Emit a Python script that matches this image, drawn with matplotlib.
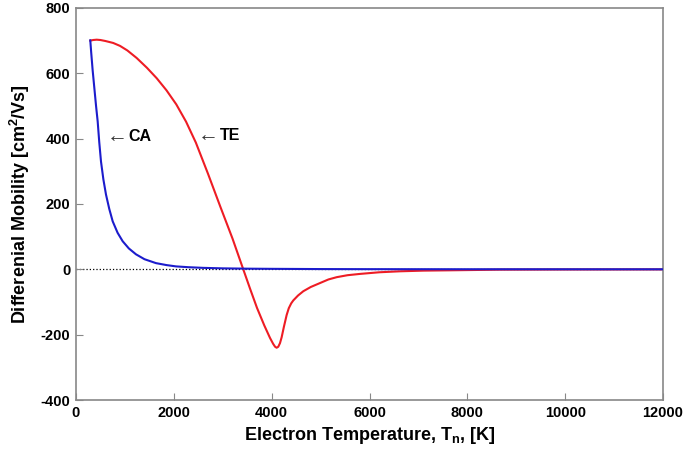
import matplotlib
matplotlib.use("Agg")
import matplotlib.pyplot as plt

plt.rcParams['font.family'] = ['Liberation Sans', 'DejaVu Sans']
plt.rcParams['axes.unicode_minus'] = False

# CA (blue) curve
ca_T = [292, 310, 340, 375, 410, 443, 475, 511, 560, 613, 680, 750, 850, 954, 1080, 1226, 1400,
        1635, 1850, 2044, 2300, 2600, 3000, 3500, 4000, 5000, 6000, 8000, 10000, 12000]
ca_mu = [701, 665, 610, 555, 500, 453, 390, 330, 275, 229, 185, 147, 112, 86, 64, 46, 31,
         19, 13, 9, 6.5, 4.5, 3, 2, 1.5, 0.8, 0.5, 0.3, 0.2, 0.1]

# TE (red) curve
te_T = [292, 350, 423, 500, 600, 760, 900, 1050, 1240, 1450, 1650, 1850, 2050, 2250, 2450,
        2700, 2950, 3200, 3410, 3560, 3700, 3850, 3966, 4030, 4070, 4102, 4135, 4170, 4204,
        4250, 4306, 4350, 4400, 4443, 4540, 4647, 4800, 4988, 5160, 5330, 5550, 5806, 6200,
        6623, 7100, 7645, 8667, 10000, 12000]
te_mu = [700, 702, 703, 702, 699, 693, 684, 670, 647, 617, 585, 548, 505, 452, 388,
         292, 192, 94, 4, -60, -118, -172, -210, -228, -237, -240, -237, -226, -208,
         -176, -140, -119, -104, -95, -80, -67, -54, -42, -31, -24, -18, -14, -9,
         -6, -4, -3, -1, -0.5, -0.2]

x_ticks = [0, 2000, 4000, 6000, 8000, 10000, 12000]
y_ticks = [-400, -200, 0, 200, 400, 600, 800]

fig = plt.figure(figsize=(6.85, 4.54), dpi=100)
ax = fig.add_axes([76/685, 54/454, 587/685, 392/454])

ax.axhline(0, color='black', linestyle=':', linewidth=0.9, zorder=1)
ax.plot(te_T, te_mu, color='#ee1c24', linewidth=1.5, zorder=2)
ax.plot(ca_T, ca_mu, color='#1c1ccc', linewidth=1.5, zorder=3)

ax.set_xlim(0, 12000)
ax.set_ylim(-400, 800)
ax.set_xticks(x_ticks)
ax.set_yticks(y_ticks)
ax.tick_params(direction='in', length=5, color='#888888', labelsize=10.5, pad=4)
for lab in ax.get_xticklabels() + ax.get_yticklabels():
    lab.set_fontweight('bold')
for s in ax.spines.values():
    s.set_color('#888888')
    s.set_linewidth(1.2)

ax.set_xlabel('Electron Temperature, T$_\\mathregular{n}$, [K]', fontsize=13, fontweight='bold', labelpad=4)
ax.set_ylabel('Differenial Mobility [cm$^\\mathregular{2}$/Vs]', fontsize=13, fontweight='bold', labelpad=6)

ax.text(620, 407, '\u2190', fontsize=15, va='center', ha='left', color='#333333')
ax.text(1080, 407, 'CA', fontsize=11.5, fontweight='bold', va='center', ha='left')
ax.text(2480, 410, '\u2190', fontsize=15, va='center', ha='left', color='#333333')
ax.text(2940, 410, 'TE', fontsize=11.5, fontweight='bold', va='center', ha='left')

fig.savefig('out.png', dpi=100)
